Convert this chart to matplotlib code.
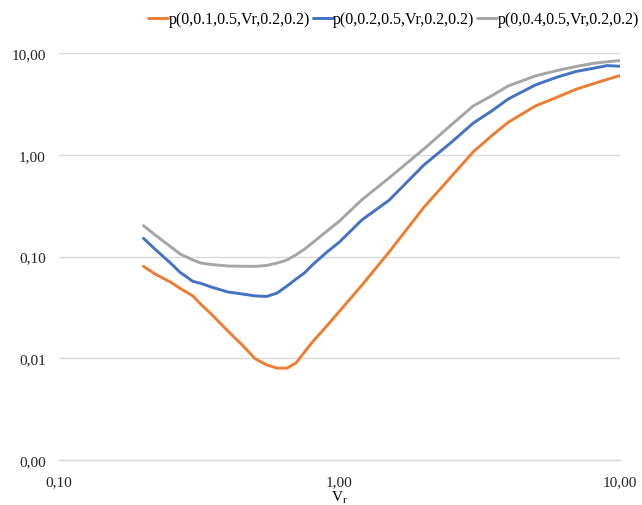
import numpy as np
import matplotlib
matplotlib.use("Agg")
import matplotlib.pyplot as plt
from matplotlib.ticker import FixedLocator, FuncFormatter, NullLocator

plt.rcParams['font.family'] = ['Liberation Serif', 'DejaVu Serif']
plt.rcParams['mathtext.fontset'] = 'custom'
plt.rcParams['mathtext.rm'] = 'Liberation Serif'

# values
vr = [0.2, 0.22, 0.25, 0.27, 0.3, 0.32, 0.35, 0.4, 0.45, 0.5, 0.55, 0.6, 0.65, 0.7,
      0.75, 0.8, 0.9, 1.0, 1.2, 1.5, 2.0, 2.5, 3.0, 3.5, 4.0, 5.0, 6.0, 7.0, 8.0,
      9.0, 10.0]
p_01 = [0.080, 0.0673, 0.056, 0.0487, 0.041, 0.034, 0.027, 0.0185, 0.0135, 0.0099,
        0.0086, 0.0080, 0.0080, 0.0090, 0.0115, 0.0144, 0.0207, 0.029, 0.052, 0.110,
        0.305, 0.608, 1.07, 1.55, 2.09, 3.02, 3.70, 4.42, 4.97, 5.5, 6.0]
p_02 = [0.151, 0.118, 0.086, 0.070, 0.057, 0.0545, 0.050, 0.0448, 0.0428, 0.0410,
        0.0405, 0.0438, 0.0513, 0.0600, 0.0690, 0.0825, 0.110, 0.139, 0.228, 0.356,
        0.794, 1.32, 2.05, 2.71, 3.54, 4.86, 5.82, 6.6, 7.06, 7.52, 7.41]
p_04 = [0.201, 0.163, 0.125, 0.106, 0.0924, 0.0863, 0.0834, 0.0806, 0.0802, 0.0800,
        0.0816, 0.0863, 0.0924, 0.1040, 0.118, 0.136, 0.177, 0.223, 0.36, 0.59,
        1.14, 1.96, 3.02, 3.82, 4.75, 5.96, 6.75, 7.38, 7.9, 8.2, 8.42]

labels = ["p(0,0.1,0.5,Vr,0.2,0.2)", "p(0,0.2,0.5,Vr,0.2,0.2)", "p(0,0.4,0.5,Vr,0.2,0.2)"]
colors = ["#ED7D31", "#4472C4", "#A5A5A5"]

x_ticks = [0.1, 1, 10]
y_ticks = [0.001, 0.01, 0.1, 1, 10]

fig = plt.figure(figsize=(6.42, 5.06), dpi=100)
ax = fig.add_axes([59/642, 45/506, 561/642, 407/506])

for y, lab, c in zip([p_01, p_02, p_04], labels, colors):
    ax.plot(vr, y, color=c, lw=2.1, label=lab, solid_capstyle='round',
            solid_joinstyle='round')

ax.set_xscale('log')
ax.set_yscale('log')
ax.set_xlim(0.1, 10)
ax.set_ylim(0.001, 10)

fmt = FuncFormatter(lambda v, pos: f"{v:.2f}".replace('.', ','))
ax.xaxis.set_major_locator(FixedLocator(x_ticks))
ax.yaxis.set_major_locator(FixedLocator(y_ticks))
ax.xaxis.set_minor_locator(NullLocator())
ax.yaxis.set_minor_locator(NullLocator())
ax.xaxis.set_major_formatter(fmt)
ax.yaxis.set_major_formatter(fmt)
ax.tick_params(axis='both', length=0, labelsize=11, colors='#222222')
ax.tick_params(axis='x', pad=11)
ax.tick_params(axis='y', pad=9.5)

ax.grid(axis='y', color='#d9d9d9', lw=1)
for s in ['top', 'right', 'left']:
    ax.spines[s].set_visible(False)
ax.spines['bottom'].set_color('#d9d9d9')
ax.spines['bottom'].set_linewidth(1)

ax.set_xlabel(r"V$_\mathrm{r}$", fontsize=11, labelpad=0)

fig.legend(loc='upper left', bbox_to_anchor=(142/642, 1 - 6/506), ncol=3,
           frameon=False, fontsize=11.5, handlelength=1.25, handletextpad=0.0,
           columnspacing=0.2, borderaxespad=0)

fig.savefig("out.png", dpi=100)
